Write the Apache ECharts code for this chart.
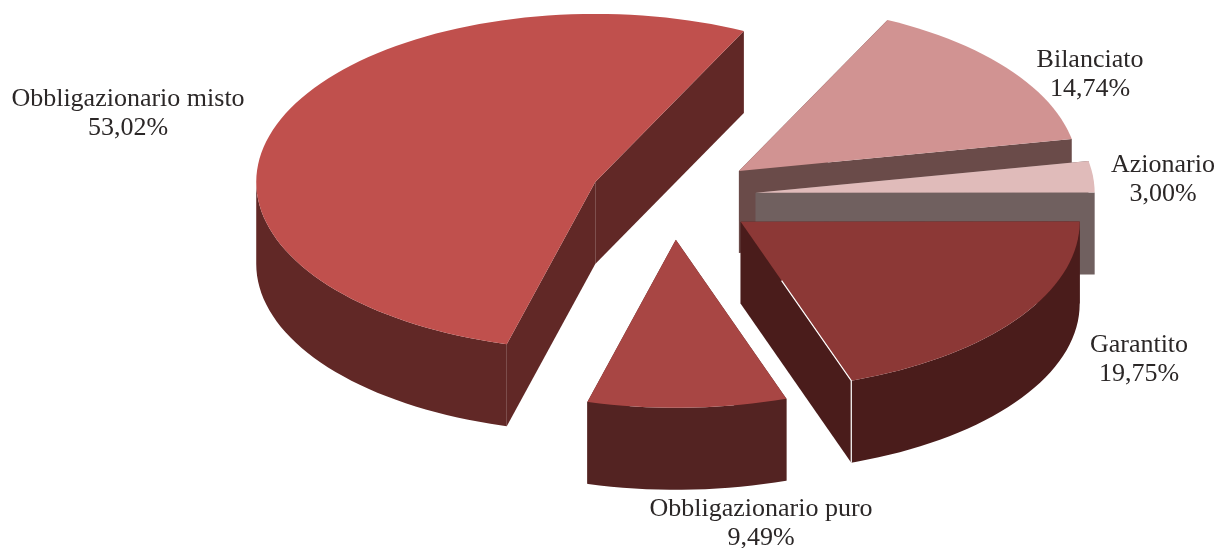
<!DOCTYPE html>
<html>
<head>
<meta charset="utf-8">
<title>Torta</title>
<style>
  html, body { margin: 0; padding: 0; background: #fff; }
  #main { width: 1218px; height: 548px; }
</style>
<script src="https://cdn.jsdelivr.net/npm/echarts@6/dist/echarts.min.js"></script>
</head>
<body>
<div id="main"></div>
<script>
// dati, in senso orario dal bordo alto di Bilanciato
var categories = ["Bilanciato", "Azionario", "Garantito", "Obbligazionario puro", "Obbligazionario misto"];
var shares = [14.74, 3.0, 19.75, 9.49, 53.02];

// colori e posizione delle etichette
var topColors = ["#D19392", "#E0BBBA", "#8C3836", "#A84644", "#C0504D"];
var sideColors = ["#6A4B49", "#70605F", "#4A1C1B", "#532322", "#612826"];
var labelCenters = [[1090, 75], [1163, 180], [1139, 360], [761, 524], [128, 114]];

// geometria della torta in prospettiva
var CX = 673, CY = 197, RX = 339, RY = 168, DEPTH = 82;
var EXPLODE_X = 0.245, EXPLODE_Y = 0.255;
var START_ANGLE = 64;

var total = shares.reduce(function (a, b) { return a + b; }, 0);

function rad(d) { return d * Math.PI / 180; }

function renderSlice(params, api) {
  var i = params.dataIndex;
  var before = 0;
  for (var k = 0; k < i; k++) before += shares[k];
  var a0 = START_ANGLE - before / total * 360;
  var a1 = a0 - api.value(1) / total * 360;
  var mid = (a0 + a1) / 2;
  var ox = CX + EXPLODE_X * RX * Math.cos(rad(mid));
  var oy = CY - EXPLODE_Y * RY * Math.sin(rad(mid));

  function pt(a, drop) {
    return [ox + RX * Math.cos(rad(a)), oy - RY * Math.sin(rad(a)) + (drop || 0)];
  }
  function apex(drop) { return [ox, oy + (drop || 0)]; }

  var angles = [a0];
  for (var t = Math.floor(a0); t > a1; t -= 2) angles.push(t);
  angles.push(a1);

  var topPts = [apex()].concat(angles.map(function (a) { return pt(a); }));

  // solo la parte anteriore del bordo si vede
  var front = angles.concat([-180, -360]).filter(function (a) {
    return a <= a0 && a >= a1 && Math.sin(rad(a)) <= 1e-9;
  }).sort(function (a, b) { return b - a; });
  var rimPts = front.map(function (a) { return pt(a); })
    .concat(front.slice().reverse().map(function (a) { return pt(a, DEPTH); }));

  var side = { fill: sideColors[i] };
  var children = [
    { type: "polygon", shape: { points: [apex(), pt(a0), pt(a0, DEPTH), apex(DEPTH)] }, style: side },
    { type: "polygon", shape: { points: [apex(), pt(a1), pt(a1, DEPTH), apex(DEPTH)] }, style: side }
  ];
  if (rimPts.length > 2) {
    children.push({ type: "polygon", shape: { points: rimPts }, style: side });
  }
  children.push({ type: "polygon", shape: { points: topPts }, style: { fill: topColors[i] } });

  // filo bianco sullo spigolo di Garantito
  if (categories[i] === "Garantito") {
    var e = pt(a1), s = apex();
    children.push({
      type: "polyline",
      shape: { points: [[s[0] + (e[0] - s[0]) * 0.37, s[1] + (e[1] - s[1]) * 0.37], e, pt(a1, DEPTH)] },
      style: { stroke: "#fff", lineWidth: 1.2, fill: null }
    });
  }

  children.push({
    type: "text",
    style: {
      x: labelCenters[i][0],
      y: labelCenters[i][1],
      text: categories[i] + "\n" + shares[i].toFixed(2).replace(".", ",") + "%",
      font: "26px 'Liberation Serif'",
      fill: "#2b2727",
      align: "center",
      verticalAlign: "middle",
      lineHeight: 29
    },
    z2: 10
  });

  return { type: "group", children: children };
}

var chart = echarts.init(document.getElementById("main"), null, { renderer: "canvas" });
chart.setOption({
  animation: false,
  backgroundColor: "#fff",
  series: [{
    type: "custom",
    coordinateSystem: "none",
    silent: true,
    renderItem: renderSlice,
    data: shares.map(function (v, i) { return [i, v]; })
  }]
});
window.addEventListener("resize", function () { chart.resize(); });
</script>
</body>
</html>
